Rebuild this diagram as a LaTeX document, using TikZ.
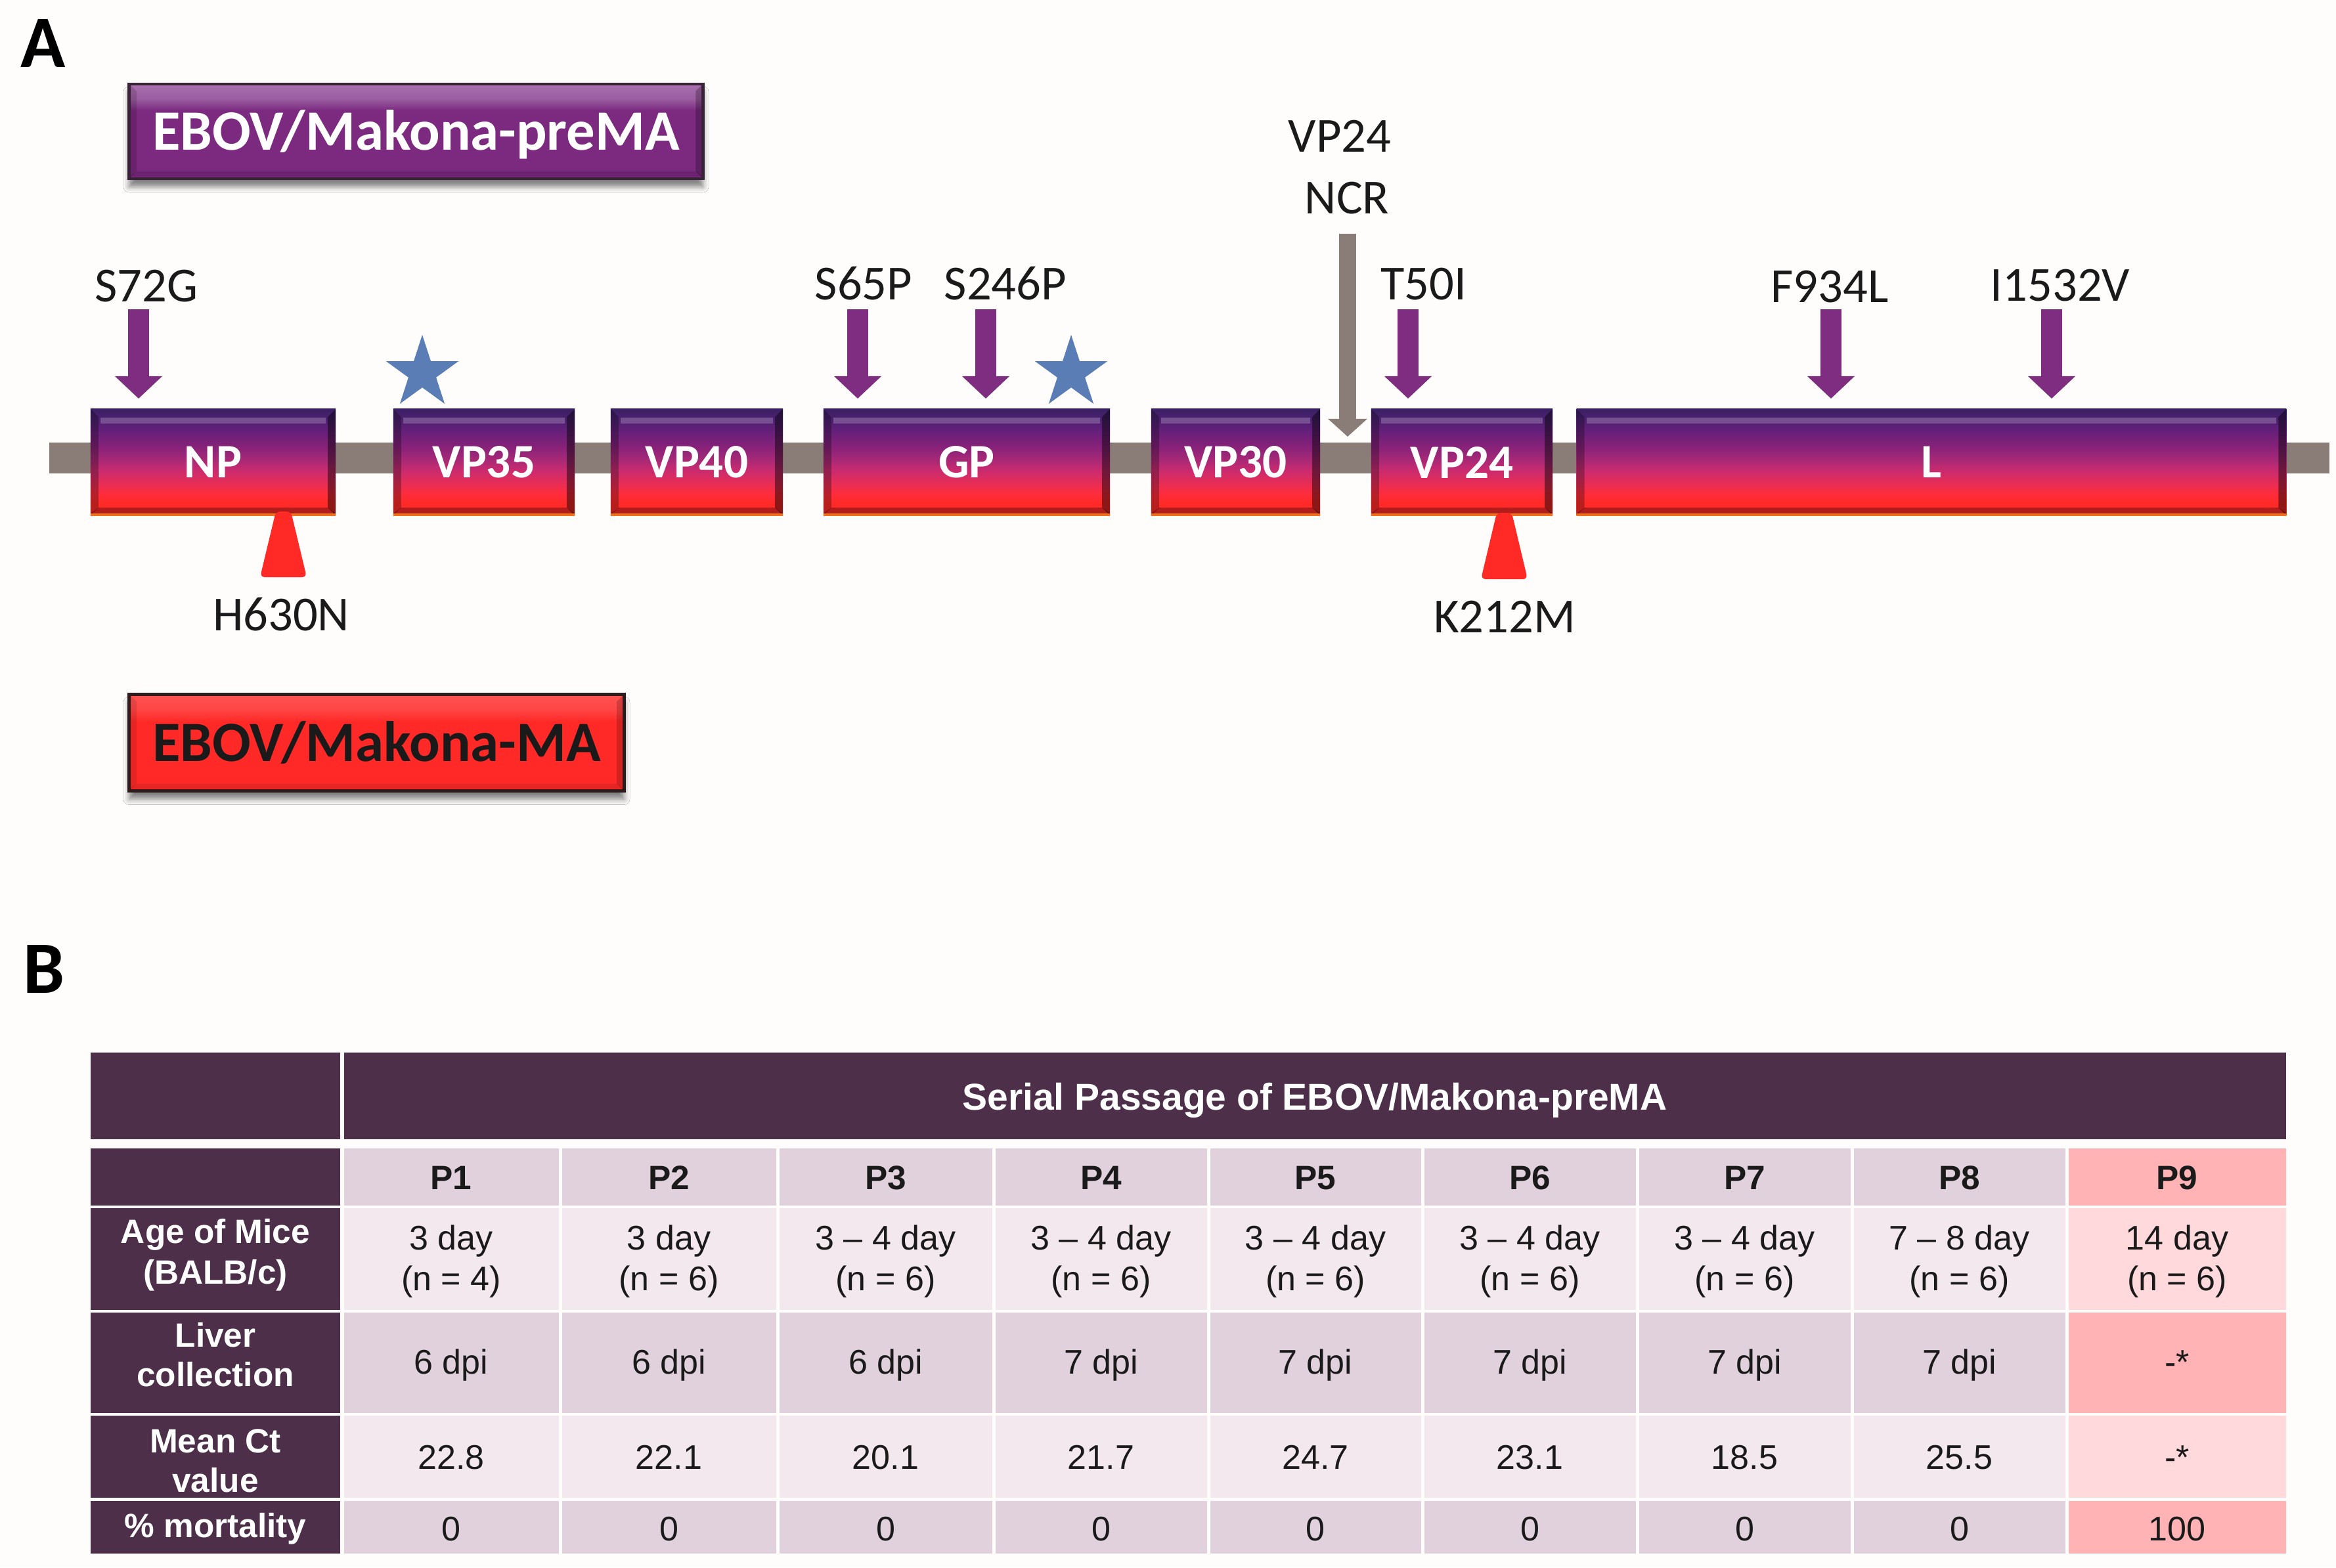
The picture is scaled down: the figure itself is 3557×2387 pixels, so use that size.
\documentclass[tikz,border=0pt]{standalone}
\usepackage{fontspec}
\setmainfont{Carlito}
\newfontfamily\arialf{Liberation Sans}
\usetikzlibrary{shadows.blur,shapes.geometric,arrows.meta}

\definecolor{bgc}{HTML}{FEFDFC}
\definecolor{bbone}{HTML}{8A7D77}
\definecolor{mutp}{HTML}{7F2D80}
\definecolor{starb}{HTML}{5A7DB5}
\definecolor{tri}{HTML}{FF2A25}
\definecolor{txt}{HTML}{1A1A1A}
\definecolor{tdark}{HTML}{4D2F4A}
\definecolor{tcA}{HTML}{E1D1DD}
\definecolor{tcB}{HTML}{F3E8EE}
\definecolor{tpA}{HTML}{FFB3B4}
\definecolor{tpB}{HTML}{FFD9DC}
% gene gradient
\definecolor{gOr}{HTML}{F07020}
\definecolor{gRd}{HTML}{FF2A28}
\definecolor{gRb}{HTML}{FF2C3A}
\definecolor{gMa}{HTML}{E82D55}
\definecolor{gMb}{HTML}{CB2B6E}
\definecolor{gPa}{HTML}{A32877}
\definecolor{gPb}{HTML}{842179}
\definecolor{gPc}{HTML}{64207A}
\definecolor{gIa}{HTML}{4A2070}
\definecolor{gIb}{HTML}{3A1F62}
% title boxes
\definecolor{preA}{HTML}{7B2A80}
\definecolor{preB}{HTML}{9A5CA0}
\definecolor{preC}{HTML}{A870AC}
\definecolor{preBord}{HTML}{3A2238}
\definecolor{maA}{HTML}{FF2A28}
\definecolor{maB}{HTML}{FF4444}
\definecolor{maC}{HTML}{FF5252}
\definecolor{maBord}{HTML}{2E1C1C}

\pgfdeclareverticalshading{genegrad}{100bp}{color(0bp)=(gOr); color(25bp)=(gOr); color(25.9bp)=(gOr); color(26.6bp)=(gRd); color(31bp)=(gRd); color(35bp)=(gRb); color(40bp)=(gMa); color(46bp)=(gMb); color(52bp)=(gPa); color(58bp)=(gPb); color(65bp)=(gPc); color(71bp)=(gIa); color(75bp)=(gIb); color(100bp)=(gIb)}
\pgfdeclareverticalshading{pregrad}{100bp}{color(0bp)=(preA); color(25bp)=(preA); color(61bp)=(preA); color(67bp)=(preB); color(75bp)=(preC); color(100bp)=(preC)}
\pgfdeclareverticalshading{magrad}{100bp}{color(0bp)=(maA); color(25bp)=(maA); color(61bp)=(maA); color(67bp)=(maB); color(75bp)=(maC); color(100bp)=(maC)}

\newcommand\fmut{\fontsize{21.2pt}{25pt}\selectfont}
\newcommand\fgene{\fontsize{20.8pt}{25pt}\selectfont\bfseries}
\newcommand\ftitle{\fontsize{24.7pt}{30pt}\selectfont\bfseries}
\newcommand\fpanel{\fontsize{32pt}{38pt}\selectfont\bfseries}
\newcommand\ftab{\arialf\fontsize{14.8pt}{18pt}\selectfont}
\newcommand\ftabb{\arialf\bfseries\fontsize{14.6pt}{18pt}\selectfont}
\newcommand\ftabh{\arialf\bfseries\fontsize{16.2pt}{19pt}\selectfont}

\newcommand\bevelfx[4]{%
 \coordinate (bNW) at (path picture bounding box.north west);
 \coordinate (bNE) at (path picture bounding box.north east);
 \coordinate (bSW) at (path picture bounding box.south west);
 \coordinate (bSE) at (path picture bounding box.south east);
 \fill[black,opacity=#2] (bNW) -- ([shift={(#1,-#1)}]bNW) -- ([shift={(#1,#1)}]bSW) -- (bSW) -- cycle;
 \fill[black,opacity=#3] (bNE) -- ([shift={(-#1,-#1)}]bNE) -- ([shift={(-#1,#1)}]bSE) -- (bSE) -- cycle;
 \fill[black,opacity=#4] ([shift={(#1,#1)}]bSW) -- ([shift={(-#1,#1)}]bSE) -- ([yshift=0.03cm]bSE) -- ([yshift=0.03cm]bSW) -- cycle;
}

\tikzset{
 genebox/.style={rectangle, inner sep=0pt, minimum height=1.62cm, shade, shading=genegrad, text=white, font=\fgene,
  path picture={
   \bevelfx{0.12cm}{0.28}{0.45}{0.30}
   \fill[white,opacity=0.22] ([shift={(0.15cm,-0.13cm)}]bNW) rectangle ([shift={(-0.15cm,-0.22cm)}]bNE);
   \fill[gOr] (bSW) rectangle ([yshift=0.03cm]bSE);
  }},
 prebox/.style={rectangle, inner sep=0pt, minimum width=8.73cm, minimum height=1.44cm, text height=0.56cm, text depth=0pt,
  shade, shading=pregrad, draw=preBord, line width=1.3pt, text=white, font=\ftitle,
  blur shadow={shadow xshift=0pt, shadow yshift=-3.5pt, shadow blur radius=2.5pt, shadow opacity=50},
  path picture={\bevelfx{0.11cm}{0.15}{0.25}{0.12}}},
 mabox/.style={rectangle, inner sep=0pt, minimum width=7.53cm, minimum height=1.47cm, text height=0.56cm, text depth=0pt,
  shade, shading=magrad, draw=maBord, line width=1.3pt, text=txt, font=\ftitle,
  blur shadow={shadow xshift=0pt, shadow yshift=-3.5pt, shadow blur radius=2.5pt, shadow opacity=50},
  path picture={\bevelfx{0.11cm}{0.10}{0.18}{0.10}}},
 mutlab/.style={font=\fmut, text=txt, anchor=base, inner sep=0pt},
 panel/.style={font=\fpanel, text=black, anchor=base west, inner sep=0pt},
 mutarr/.style={draw=mutp, line width=0.32cm, -{Triangle[width=0.70cm,length=0.34cm]}},
 ncrarr/.style={draw=bbone, line width=0.26cm, -{Triangle[width=0.58cm,length=0.27cm]}},
 bluestar/.style={star, star points=5, star point ratio=2.618, minimum size=1.16cm, inner sep=0pt, fill=starb, draw=none},
 tcell/.style={font=\ftab, text=txt, anchor=base, inner sep=0pt},
 tcellb/.style={font=\ftabb, text=txt, anchor=base, inner sep=0pt},
 rowlab/.style={font=\ftabb, text=white, anchor=base, inner sep=0pt},
}

\begin{document}
\begin{tikzpicture}[x=0.01cm,y=-0.01cm]
\useasboundingbox (0,0) rectangle (3557,2387);
\fill[bgc] (0,0) rectangle (3557,2387);

% ---------------- Panel A ----------------
\node[panel] (panA) at (31,102) {A};
\node[prebox] (prema) at (633.5,200) {EBOV/Makona-preMA};
\node[mabox] (ma) at (573.5,1131) {EBOV/Makona-MA};

% backbone
\fill[bbone] (75,674) rectangle (3547,721);

% genes
\node[genebox, minimum width=3.73cm] (np) at (324.5,704) {NP};
\node[genebox, minimum width=2.76cm] (vp35) at (737,704) {VP35};
\node[genebox, minimum width=2.62cm] (vp40) at (1061,704) {VP40};
\node[genebox, minimum width=4.36cm] (gp) at (1472,704) {GP};
\node[genebox, minimum width=2.57cm] (vp30) at (1881.5,704) {VP30};
\node[genebox, minimum width=2.76cm] (vp24) at (2226,704) {VP24};
\node[genebox, minimum width=10.80cm] (lgene) at (2941,704) {L};

% mutation labels
\node[mutlab] (s72g) at (223,459) {S72G};
\node[mutlab] (s65p) at (1315,456) {S65P};
\node[mutlab] (s246p) at (1531,456) {S246P};
\node[mutlab] (t50i) at (2168,456) {T50I};
\node[mutlab] (f934l) at (2786,460) {F934L};
\node[mutlab] (i1532v) at (3137,458) {I1532V};
\node[mutlab] (ncr1) at (2040,231) {VP24};
\node[mutlab] (ncr2) at (2051,325) {NCR};
\node[mutlab] (h630n) at (428,960) {H630N};
\node[mutlab] (k212m) at (2291,963) {K212M};

% arrow coordinates
\coordinate (a1t) at (211,471);  \coordinate (a1h) at (211,607);
\coordinate (a2t) at (1306,471); \coordinate (a2h) at (1306,607);
\coordinate (a3t) at (1501,471); \coordinate (a3h) at (1501,607);
\coordinate (a4t) at (2144,471); \coordinate (a4h) at (2144,607);
\coordinate (a5t) at (2788,471); \coordinate (a5h) at (2788,607);
\coordinate (a6t) at (3124,471); \coordinate (a6h) at (3124,607);
\coordinate (gt) at (2052,356);  \coordinate (gh) at (2052,665);

\draw[mutarr] (a1t) -- (a1h);
\draw[mutarr] (a2t) -- (a2h);
\draw[mutarr] (a3t) -- (a3h);
\draw[mutarr] (a4t) -- (a4h);
\draw[mutarr] (a5t) -- (a5h);
\draw[mutarr] (a6t) -- (a6h);
\draw[ncrarr] (gt) -- (gh);

% stars
\node[bluestar] (star1) at (643,568) {};
\node[bluestar] (star2) at (1631,568) {};

% red triangles
\fill[tri, rounded corners=2pt] (420,779) -- (443,779) -- (467,879) -- (396,879) -- cycle;
\fill[tri, rounded corners=2pt] (2279,781) -- (2302,781) -- (2326,882) -- (2255,882) -- cycle;

% ---------------- Panel B ----------------
\node[panel] (panB) at (35,1512) {B};

\fill[tdark] (138,1603) rectangle (518,1735);
\fill[tdark] (524,1603) rectangle (3481,1735);
\node[font=\ftabh, text=white, anchor=base, inner sep=0pt] (hdr) at (2002,1690) {Serial Passage of EBOV/Makona-preMA};

\foreach \ya/\yb/\ca/\cb in {1749/1836/tcA/tpA, 1840/1995/tcB/tpB, 1999/2152/tcA/tpA, 2156/2281/tcB/tpB, 2286/2366/tcA/tpA}{
  \fill[tdark] (138,\ya) rectangle (518,\yb);
  \foreach \xa/\xb in {524/850.5, 855.5/1181.5, 1186.5/1510.5, 1515.5/1837.5, 1842.5/2163.5, 2168.5/2490.5, 2495.5/2817.5, 2822.5/3144.5}
    \fill[\ca] (\xa,\ya) rectangle (\xb,\yb);
  \fill[\cb] (3149.5,\ya) rectangle (3481,\yb);
}

% row labels
\node[rowlab] (rl1a) at (328,1893) {Age of Mice};
\node[rowlab] (rl1b) at (328,1955) {(BALB/c)};
\node[rowlab] (rl2a) at (328,2051) {Liver};
\node[rowlab] (rl2b) at (328,2111) {collection};
\node[rowlab] (rl3a) at (328,2212) {Mean Ct};
\node[rowlab] (rl3b) at (328,2272) {value};
\node[rowlab] (rl4) at (328,2341) {\% mortality};

% column cells
\foreach \cx/\p/\agea/\ageb/\liv/\mct/\mort [count=\k] in {
   687/P1/3 day/(n = 4)/6 dpi/22.8/0,
   1018.5/P2/3 day/(n = 6)/6 dpi/22.1/0,
   1348.5/P3/3 – 4 day/(n = 6)/6 dpi/20.1/0,
   1676.5/P4/3 – 4 day/(n = 6)/7 dpi/21.7/0,
   2003/P5/3 – 4 day/(n = 6)/7 dpi/24.7/0,
   2329.5/P6/3 – 4 day/(n = 6)/7 dpi/23.1/0,
   2656.5/P7/3 – 4 day/(n = 6)/7 dpi/18.5/0,
   2983.5/P8/7 – 8 day/(n = 6)/7 dpi/25.5/0,
   3315/P9/14 day/(n = 6)/-*/-*/100}{
  \node[tcellb] (cp\k) at (\cx,1811) {\p};
  \node[tcell] (ca\k) at (\cx,1903) {\agea};
  \node[tcell] (cb\k) at (\cx,1965) {\ageb};
  \node[tcell] (cl\k) at (\cx,2092) {\liv};
  \node[tcell] (cm\k) at (\cx,2237) {\mct};
  \node[tcell] (co\k) at (\cx,2346) {\mort};
}
\end{tikzpicture}
\end{document}
